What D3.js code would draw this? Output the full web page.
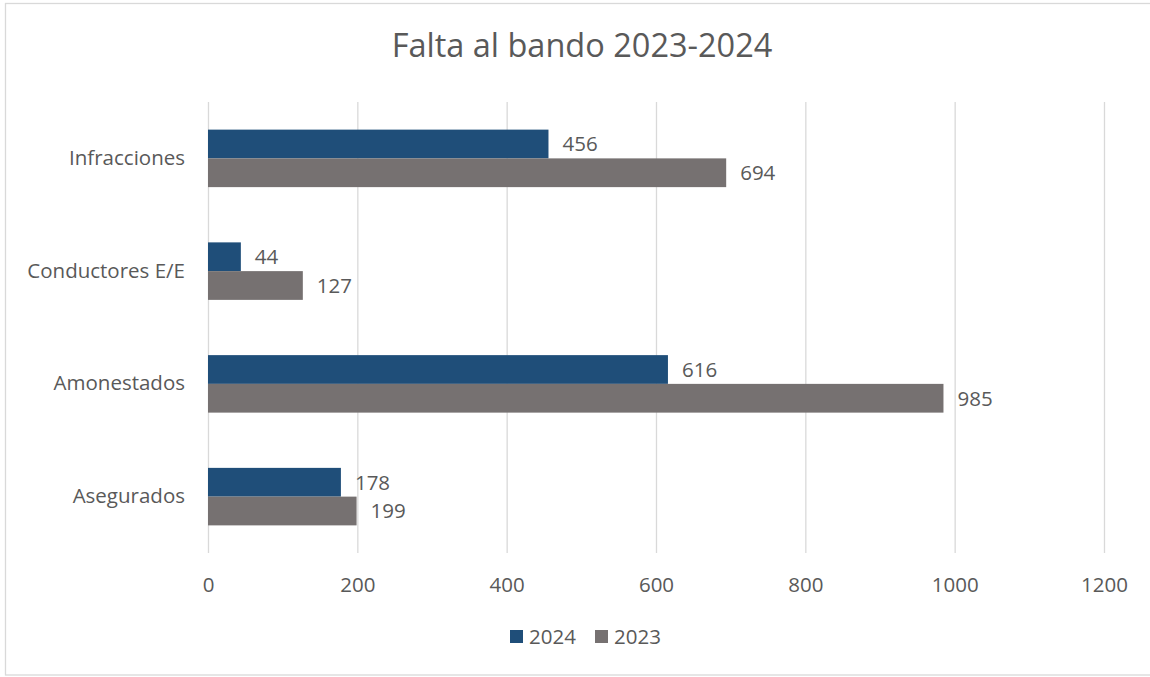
<!DOCTYPE html>
<html><head><meta charset="utf-8">
<script src="https://cdn.jsdelivr.net/npm/d3@7"></script>
<style>
html,body{margin:0;padding:0;background:#fff;}
text{font-family:"Open Sans",sans-serif;fill:#595959;}
</style></head>
<body><svg id="c" width="1150" height="677"></svg>
<script>
const categories = ["Infracciones","Conductores E/E","Amonestados","Asegurados"];
const series = ["2024","2023"];
const values2024 = [456,44,616,178];
const values2023 = [694,127,985,199];
const xTicks = [0,200,400,600,800,1000,1200];
const colors = ["#1F4E79","#767171"];
const title = "Falta al bando 2023-2024";

const svg = d3.select("#c");
const W=1150,H=677;
const m={left:208,right:W-1104,top:102,bottom:H-553};
const fs="20.5px";

svg.append("rect").attr("x",5.5).attr("y",3.5).attr("width",W).attr("height",671.5)
  .attr("fill","#fff").attr("stroke","#d9d9d9").attr("stroke-width",1.3);

svg.append("text").attr("x",582).attr("y",57).attr("text-anchor","middle")
  .style("font-size","32.5px").text(title);

const x=d3.scaleLinear().domain([0,1200]).range([m.left,W-m.right]);
const y0=d3.scaleBand().domain(categories).range([m.top,H-m.bottom]).paddingInner(0.49).paddingOuter(0.245);
const y1=d3.scaleBand().domain(series).range([0,y0.bandwidth()]);

// grid
const grid=svg.append("g").attr("transform",`translate(0,${m.top})`)
  .call(d3.axisBottom(x).tickValues(xTicks).tickSize(H-m.bottom-m.top).tickFormat(""));
grid.select(".domain").remove();
grid.selectAll("line").attr("stroke","#d9d9d9").attr("stroke-width",1.3);

// x labels
const xa=svg.append("g").attr("transform",`translate(0,${H-m.bottom})`)
  .call(d3.axisBottom(x).tickValues(xTicks).tickSize(0).tickPadding(24).tickFormat(d3.format("d")));
xa.select(".domain").remove();
xa.selectAll("text").style("font-size",fs).attr("fill","#595959").style("font-family","Open Sans");

// y labels
const ya=svg.append("g").attr("transform",`translate(${m.left},0)`)
  .call(d3.axisLeft(y0).tickSize(0).tickPadding(23));
ya.select(".domain").remove();
ya.selectAll("text").style("font-size",fs).attr("fill","#595959").style("font-family","Open Sans");

const data=categories.map((c,i)=>({cat:c,vals:[{s:"2024",v:values2024[i]},{s:"2023",v:values2023[i]}]}));
const g=svg.append("g").selectAll("g").data(data).join("g")
  .attr("transform",d=>`translate(0,${y0(d.cat)})`);
g.selectAll("rect").data(d=>d.vals).join("rect")
  .attr("x",x(0)).attr("y",d=>y1(d.s)).attr("width",d=>x(d.v)-x(0)).attr("height",y1.bandwidth())
  .attr("fill",(d,i)=>colors[i]);
g.selectAll("text.lbl").data(d=>d.vals).join("text").attr("class","lbl")
  .attr("x",d=>x(d.v)+14).attr("y",d=>y1(d.s)+y1.bandwidth()/2).attr("dy","0.36em")
  .style("font-size",fs).text(d=>d.v);

// legend
const leg=svg.append("g");
const lx=[510,595];
series.forEach((s,i)=>{
  leg.append("rect").attr("x",lx[i]).attr("y",630).attr("width",13).attr("height",13).attr("fill",colors[i]);
  leg.append("text").attr("x",lx[i]+19).attr("y",636.5).attr("dy","0.36em").style("font-size",fs).text(s);
});
</script></body></html>
